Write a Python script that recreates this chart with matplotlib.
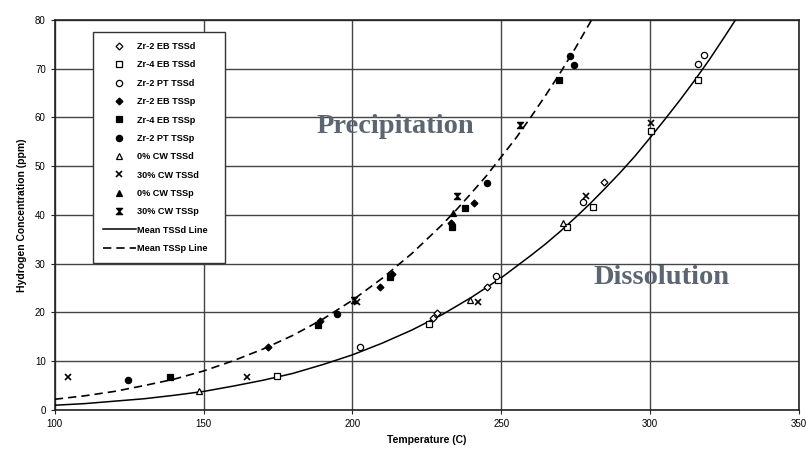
import matplotlib
matplotlib.use("Agg")
import matplotlib.pyplot as plt

plt.rcParams['font.family'] = ['Liberation Sans', 'DejaVu Sans']

# ---- data ----
x_ticks = [100, 150, 200, 250, 300, 350]
y_ticks = [0, 10, 20, 30, 40, 50, 60, 70, 80]

# Mean lines
tssd_t = [100, 110, 120, 130, 140, 150, 160, 170, 180, 190, 200, 210, 220, 230,
          240, 250, 260, 265, 270, 275, 280, 285, 290, 295, 300, 305, 310, 315,
          320, 325, 330, 335]
tssd_c = [0.97, 1.3, 1.8, 2.3, 3.0, 3.8, 4.9, 6.1, 7.5, 9.3, 11.3, 13.7, 16.4, 19.5,
          23.1, 27.1, 31.7, 34.1, 36.7, 39.5, 42.4, 45.5, 48.7, 52.1, 55.8, 59.6, 63.5,
          67.6, 71.9, 76.5, 81.2, 86.0]
tssp_t = [100, 110, 120, 130, 140, 150, 160, 170, 180, 190, 200, 210, 220, 230,
          235, 240, 245, 250, 255, 260, 265, 270, 275, 280, 285, 290]
tssp_c = [2.2, 2.9, 3.8, 5.0, 6.3, 8.0, 10.1, 12.5, 15.3, 18.6, 22.5, 27.0, 32.1, 37.9,
          41.1, 44.5, 48.0, 51.9, 55.8, 60.1, 64.6, 69.3, 74.3, 79.6, 85.5, 91.0]

zr2_eb_tssd_t = [227.0, 228.6, 245.3, 284.6]
zr2_eb_tssd_c = [18.8, 19.8, 25.3, 46.8]
zr4_eb_tssd_t = [174.6, 225.8, 249.0, 272.0, 281.0, 300.5, 316.3]
zr4_eb_tssd_c = [7.0, 17.6, 26.7, 37.5, 41.7, 57.3, 67.7]
zr2_pt_tssd_t = [202.6, 248.2, 277.6, 316.1, 318.2]
zr2_pt_tssd_c = [12.9, 27.5, 42.7, 70.9, 72.8]
zr2_eb_tssp_t = [171.6, 189.2, 209.3, 213.3, 233.3, 241.0]
zr2_eb_tssp_c = [12.9, 18.3, 25.3, 27.9, 38.3, 42.4]
zr4_eb_tssp_t = [138.7, 188.6, 212.6, 233.4, 237.9, 269.6]
zr4_eb_tssp_c = [6.8, 17.5, 27.2, 37.6, 41.5, 67.7]
zr2_pt_tssp_t = [124.5, 194.7, 245.2, 273.2, 274.5]
zr2_pt_tssp_c = [6.2, 19.6, 46.6, 72.6, 70.8]
cw0_tssd_t = [148.4, 239.5, 270.9]
cw0_tssd_c = [3.8, 22.5, 38.3]
cw30_tssd_t = [104.4, 164.5, 201.5, 242.2, 278.6, 300.3]
cw30_tssd_c = [6.8, 6.8, 22.2, 22.2, 43.8, 58.8]
cw0_tssp_t = [233.9]
cw0_tssp_c = [40.4]
cw30_tssp_t = [200.4, 235.1, 256.4]
cw30_tssp_c = [22.6, 43.8, 58.5]

labels = ["Zr-2 EB TSSd", "Zr-4 EB TSSd", "Zr-2 PT TSSd", "Zr-2 EB TSSp",
          "Zr-4 EB TSSp", "Zr-2 PT TSSp", "0% CW TSSd", "30% CW TSSd",
          "0% CW TSSp", "30% CW TSSp", "Mean TSSd Line", "Mean TSSp Line"]

# ---- figure ----
fig = plt.figure(figsize=(8.06, 4.54), dpi=100)
ax = fig.add_axes([0.068, 0.097, 0.923, 0.859])
ax.set_xlim(100, 350)
ax.set_ylim(0, 80)
ax.set_xticks(x_ticks)
ax.set_yticks(y_ticks)
ax.grid(True, color='#444444', linewidth=1.0)
ax.set_axisbelow(True)
for s in ax.spines.values():
    s.set_color('#222222')
    s.set_linewidth(1.2)
ax.tick_params(labelsize=7, length=3, color='#222222')
ax.set_xlabel("Temperature (C)", fontsize=7.5, fontweight='bold', labelpad=4)
ax.set_ylabel("Hydrogen Concentration (ppm)", fontsize=7.5, fontweight='bold', labelpad=6)

ms = 4.5
hourglass = [(-1, 1), (1, 1), (-1, -1), (1, -1), (-1, 1)]
series = [
    (zr2_eb_tssd_t, zr2_eb_tssd_c, dict(marker='D', mfc='white', mec='black', ms=ms - 1)),
    (zr4_eb_tssd_t, zr4_eb_tssd_c, dict(marker='s', mfc='white', mec='black', ms=ms)),
    (zr2_pt_tssd_t, zr2_pt_tssd_c, dict(marker='o', mfc='white', mec='black', ms=ms)),
    (zr2_eb_tssp_t, zr2_eb_tssp_c, dict(marker='D', mfc='black', mec='black', ms=ms - 1)),
    (zr4_eb_tssp_t, zr4_eb_tssp_c, dict(marker='s', mfc='black', mec='black', ms=ms)),
    (zr2_pt_tssp_t, zr2_pt_tssp_c, dict(marker='o', mfc='black', mec='black', ms=ms)),
    (cw0_tssd_t, cw0_tssd_c, dict(marker='^', mfc='white', mec='black', ms=ms)),
    (cw30_tssd_t, cw30_tssd_c, dict(marker='x', mfc='black', mec='black', ms=ms, mew=1.2)),
    (cw0_tssp_t, cw0_tssp_c, dict(marker='^', mfc='black', mec='black', ms=ms)),
    (cw30_tssp_t, cw30_tssp_c, dict(marker=hourglass, mfc='black', mec='black', ms=ms)),
]
handles = []
for (t, c, st), lab in zip(series, labels[:10]):
    h, = ax.plot(t, c, linestyle='none', mew=st.pop('mew', 0.9), label=lab, zorder=4, **st)
    handles.append(h)

h1, = ax.plot(tssd_t, tssd_c, color='black', linewidth=1.1, label=labels[10], zorder=3)
h2, = ax.plot(tssp_t, tssp_c, color='black', linewidth=1.2, linestyle=(0, (5, 3)),
              label=labels[11], zorder=3)
handles += [h1, h2]

leg = ax.legend(handles=handles, loc='upper left', bbox_to_anchor=(0.0512, 0.969),
                fontsize=6.6, frameon=True, fancybox=False, edgecolor='#333333',
                framealpha=1, labelspacing=1.02, handlelength=3.6,
                borderpad=1.1, handletextpad=0.1, borderaxespad=0)
leg.get_frame().set_linewidth(1.0)
for txt in leg.get_texts():
    txt.set_fontweight('bold')
    txt.set_text(txt.get_text() + "   ")

ax.text(214.5, 58.1, "Precipitation", fontsize=20.5, fontweight='bold',
        family='Liberation Serif', color='#5c6672', ha='center', va='center', zorder=5)
ax.text(303.8, 27.1, "Dissolution", fontsize=20.5, fontweight='bold',
        family='Liberation Serif', color='#5c6672', ha='center', va='center', zorder=5)

fig.savefig("out.png", dpi=100)
